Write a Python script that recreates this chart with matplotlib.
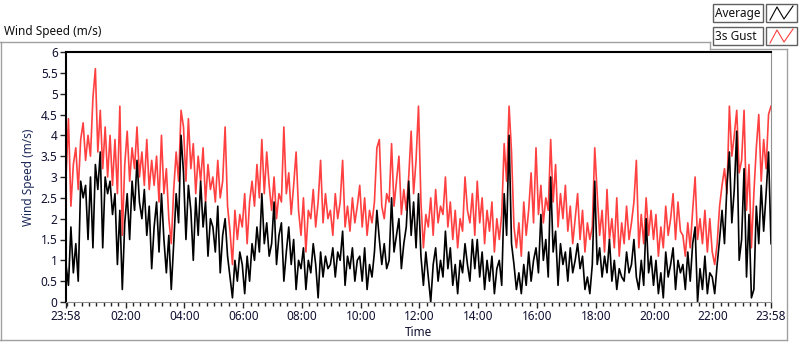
import numpy as np
import matplotlib
matplotlib.use("Agg")
import matplotlib.pyplot as plt
from matplotlib.patches import Rectangle
from matplotlib.lines import Line2D

plt.rcParams["font.family"] = ["Noto Sans", "DejaVu Sans"]

# Wind speed (m/s), one reading every 5 minutes from 23:58 to 23:58 next day
gust = [
    3.0, 4.4, 2.3, 3.3, 3.7, 2.7, 3.9, 4.3, 3.4, 4.0, 3.5, 4.9,
    5.6, 3.6, 4.6, 3.2, 4.2, 3.0, 4.0, 2.8, 3.9, 2.6, 4.7, 1.6,
    3.3, 4.1, 2.9, 3.7, 3.2, 4.2, 3.0, 3.6, 2.8, 3.9, 2.7, 3.4,
    2.8, 3.5, 2.4, 4.0, 2.6, 3.2, 2.0, 1.4, 2.7, 3.6, 2.9, 4.6,
    4.2, 2.9, 4.4, 3.2, 3.8, 2.6, 3.5, 2.9, 3.7, 2.4, 3.3, 2.7,
    3.0, 2.4, 3.4, 2.5, 2.9, 4.2, 2.3, 1.7, 0.9, 2.2, 1.5, 2.1,
    1.8, 2.6, 1.4, 2.4, 2.9, 2.3, 3.3, 2.5, 3.9, 2.6, 3.6, 2.8,
    2.2, 3.0, 2.0, 2.6, 2.4, 4.2, 2.6, 3.1, 2.1, 2.8, 3.6, 2.2,
    1.6, 2.5, 1.2, 2.2, 2.0, 2.7, 1.8, 2.4, 3.4, 1.9, 2.6, 2.0,
    2.2, 1.6, 2.6, 2.0, 2.4, 3.4, 1.8, 2.3, 1.7, 2.5, 1.9, 2.3,
    2.8, 1.8, 2.5, 1.6, 2.2, 1.9, 2.4, 3.7, 3.9, 2.3, 2.0, 2.6,
    2.4, 3.8, 2.3, 2.9, 3.5, 2.1, 2.7, 2.2, 3.0, 4.1, 2.6, 3.4,
    4.7, 2.4, 1.3, 2.1, 1.8, 2.5, 1.6, 2.7, 1.9, 2.3, 2.1, 3.0,
    1.8, 2.4, 1.5, 2.2, 1.3, 2.0, 1.7, 3.0, 2.2, 1.9, 2.6, 1.6,
    2.9, 1.9, 2.5, 1.4, 2.2, 1.7, 2.4, 1.2, 2.0, 1.5, 2.1, 3.8,
    2.9, 4.7, 3.6, 1.8, 1.3, 1.9, 1.1, 2.4, 1.6, 2.2, 3.1, 1.9,
    3.7, 2.1, 2.8, 1.9, 2.5, 2.2, 3.9, 2.4, 3.3, 1.8, 2.6, 2.0,
    2.8, 1.7, 2.3, 1.4, 2.0, 2.6, 1.5, 2.2, 1.2, 1.9, 1.5, 1.8,
    3.7, 2.6, 1.6, 2.2, 1.2, 2.7, 1.5, 2.0, 1.3, 2.5, 1.1, 1.9,
    1.4, 2.3, 1.5, 1.9, 2.4, 3.4, 1.3, 2.1, 1.4, 2.5, 1.6, 2.2,
    1.5, 2.1, 1.1, 1.8, 1.3, 2.3, 1.6, 2.0, 2.6, 1.5, 2.4, 1.7,
    1.6, 1.1, 1.9, 1.3, 2.2, 3.0, 1.5, 2.0, 1.4, 2.2, 1.2, 2.0,
    1.2, 0.9, 1.4, 2.3, 2.8, 3.2, 2.6, 4.7, 3.5, 4.0, 4.6, 3.1,
    3.4, 4.6, 2.2, 3.3, 1.3, 2.6, 3.7, 4.5, 2.9, 3.9, 3.2, 4.5, 4.7,
]
average = [
    0.9, 0.4, 1.8, 0.7, 1.4, 0.5, 2.9, 2.5, 2.8, 1.5, 3.0, 1.3,
    3.3, 2.7, 3.6, 1.3, 3.0, 2.6, 2.9, 2.1, 2.6, 0.9, 2.2, 0.3,
    1.9, 2.6, 1.5, 2.9, 2.2, 3.4, 2.4, 2.0, 2.7, 1.6, 2.3, 0.8,
    1.8, 2.4, 1.2, 2.6, 1.5, 0.7, 1.6, 0.3, 1.4, 2.6, 1.9, 4.0,
    3.1, 1.5, 2.8, 2.2, 1.0, 2.5, 1.6, 2.9, 1.8, 2.4, 1.1, 2.0,
    1.8, 1.2, 2.3, 0.7, 1.6, 2.0, 1.1, 0.6, 0.1, 1.0, 0.5, 1.2,
    0.9, 0.2, 1.1, 0.5, 1.4, 1.0, 1.8, 1.2, 2.6, 1.4, 1.9, 1.1,
    1.4, 2.4, 0.9, 1.6, 1.9, 0.5, 1.2, 1.8, 0.9, 1.5, 0.3, 1.0,
    0.8, 1.3, 0.3, 1.0, 0.7, 1.4, 0.9, 0.1, 1.2, 0.6, 1.1, 0.8,
    0.9, 1.3, 0.6, 1.2, 1.0, 1.7, 0.4, 1.1, 0.8, 1.3, 0.5, 1.0,
    1.1, 0.5, 1.3, 0.3, 0.9, 0.6, 1.2, 2.2, 1.5, 0.9, 1.4, 0.8,
    1.0, 2.5, 1.2, 1.6, 2.0, 0.8, 1.4, 1.8, 2.9, 1.6, 2.4, 1.3,
    2.6, 1.1, 0.4, 1.2, 0.6, 0.0, 0.9, 1.3, 0.5, 1.0, 0.6, 1.7,
    0.8, 1.3, 0.4, 0.9, 0.2, 1.0, 0.7, 1.4, 0.9, 0.5, 1.5, 0.8,
    1.5, 0.6, 1.2, 0.3, 1.0, 0.5, 1.1, 0.2, 0.8, 1.0, 0.4, 2.6,
    1.6, 4.0, 1.4, 0.9, 0.3, 0.7, 0.2, 0.9, 0.4, 1.2, 0.5, 1.0,
    1.3, 0.7, 2.1, 1.0, 1.5, 0.6, 3.0, 1.2, 1.7, 0.4, 1.4, 0.9,
    1.2, 0.5, 1.3, 0.7, 1.0, 1.4, 0.8, 1.1, 0.3, 0.6, 0.2, 0.9,
    2.9, 0.9, 1.3, 0.6, 1.1, 0.7, 1.5, 0.5, 1.0, 0.3, 0.8, 0.6,
    0.5, 1.2, 0.7, 0.9, 1.5, 0.6, 0.3, 1.0, 0.4, 2.0, 0.7, 1.1,
    0.4, 1.0, 0.2, 0.7, 0.1, 1.2, 0.6, 0.9, 1.3, 0.3, 1.0, 0.7,
    0.9, 0.3, 1.2, 0.5, 1.4, 1.8, 0.0, 0.8, 0.3, 1.1, 0.2, 0.7,
    0.6, 0.2, 0.9, 1.5, 2.2, 1.4, 2.8, 3.6, 1.9, 2.7, 4.1, 1.0,
    1.5, 3.2, 0.6, 2.1, 0.1, 0.3, 2.3, 1.4, 2.8, 1.7, 2.6, 3.6, 1.4,
]
tick_labels = ["23:58", "02:00", "04:00", "06:00", "08:00", "10:00", "12:00",
               "14:00", "16:00", "18:00", "20:00", "22:00", "23:58"]

minutes = np.arange(len(gust)) * 5  # minutes since 23:58
W, H = 800, 342


def fx(x):
    return x / W


def fy(y):
    return 1 - y / H


fig = plt.figure(figsize=(8, 3.42), dpi=100)
ax = fig.add_axes([fx(66), fy(302), fx(771) - fx(66), fy(52) - fy(302)])

ax.plot(minutes, gust, color="#ff4040", lw=1.2)
ax.plot(minutes, average, color="black", lw=1.2)

ax.set_xlim(0, 1440)
ax.set_ylim(0, 6)
ax.set_yticks(np.arange(0, 6.01, 0.5))
ax.set_yticklabels(["0", "0.5", "1", "1.5", "2", "2.5", "3", "3.5", "4", "4.5", "5", "5.5", "6"])
ax.set_xticks([0] + [122 + 120 * k for k in range(11)] + [1440])
ax.set_xticklabels(tick_labels)
ax.set_xticks([2 + 15 * k for k in range(96)], minor=True)
ax.tick_params(axis="both", which="major", direction="out", length=4, width=1,
               labelsize=8.5, colors="#222222", labelcolor="#101030", pad=2)
ax.tick_params(axis="x", which="minor", direction="out", length=3, width=1, colors="#222222")

ax.spines["left"].set_linewidth(1.5)
ax.spines["top"].set_linewidth(1.5)
ax.spines["right"].set_color("#909090")
ax.spines["bottom"].set_color("#909090")

ax.set_ylabel("Wind Speed (m/s)", fontsize=8.5, color="#1c2a5a", labelpad=4)
ax.set_xlabel("Time", fontsize=8.5, color="#101030", labelpad=2)

# caption above the chart
fig.text(fx(4), fy(31), "Wind Speed (m/s)", fontsize=8.5, color="#101010", va="center", ha="left")

# outer frame
frame = "#a0a0a0"
for xs, ys in [([0, 710], [42, 42]), ([710, 710], [42, 49]), ([710, 787], [49, 49]),
               ([787, 787], [49, 340]), ([0, 787], [340, 340]), ([1, 1], [42, 340])]:
    fig.add_artist(Line2D([fx(v) for v in xs], [fy(v) for v in ys], color=frame, lw=1))

# legend
for y0, label, col in [(4, "Average", "black"), (27, "3s Gust", "#ff4040")]:
    fig.add_artist(Rectangle((fx(713), fy(y0 + 18)), fx(50), 18 / H, transform=fig.transFigure,
                             facecolor="white", edgecolor="#606060", lw=1))
    fig.text(fx(715), fy(y0 + 9), label, fontsize=8.5, color="#101010", va="center", ha="left")
    fig.add_artist(Rectangle((fx(766), fy(y0 + 18)), fx(31), 18 / H, transform=fig.transFigure,
                             facecolor="white", edgecolor="#606060", lw=1))
    zx = [770, 777, 784, 793]
    zy = [y0 + 16, y0 + 3, y0 + 15, y0 + 2]
    fig.add_artist(Line2D([fx(v) for v in zx], [fy(v) for v in zy], color=col, lw=0.8))

fig.savefig("out.png", dpi=100)
